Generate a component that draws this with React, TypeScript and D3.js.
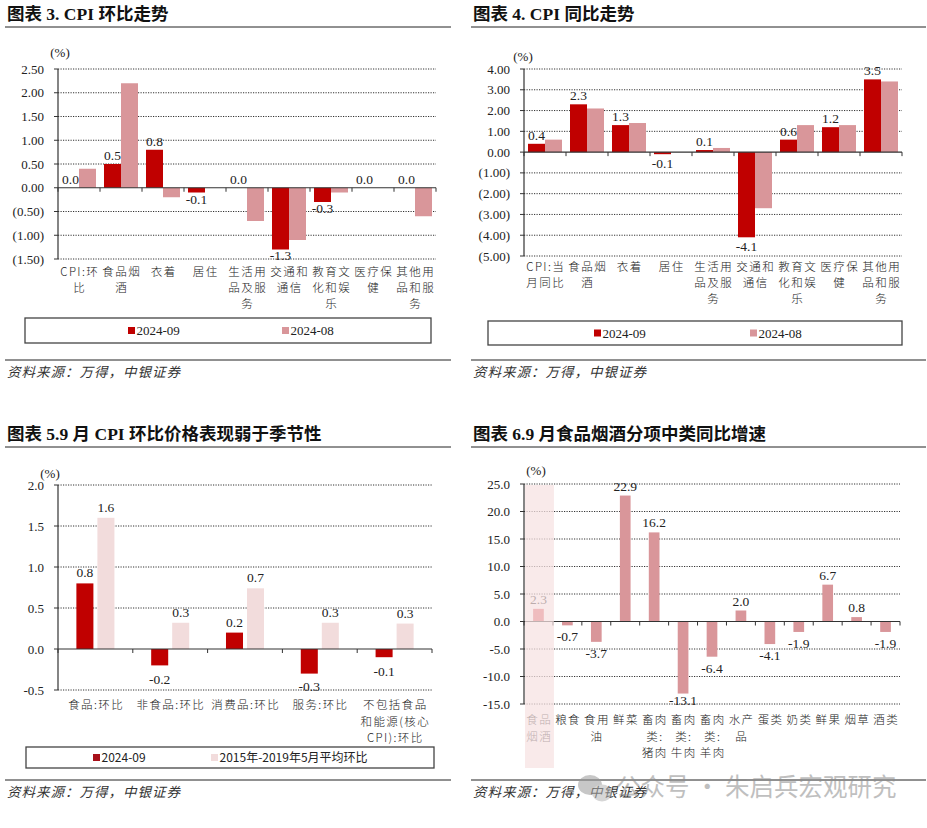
import React, { useEffect, useRef } from 'react';
import * as d3 from 'd3';

const SERIF = '"Liberation Serif", "Times New Roman", "Noto Sans CJK SC", serif';
const SANS = '"Noto Sans CJK SC", "Noto Sans", sans-serif';
const CJK = '"Noto Sans CJK SC", "Liberation Sans", sans-serif';

const RED = '#c00000';
const PINK = '#d9969a';
const LIGHT = '#f2dcdc';

// 图表3 CPI 环比
const momCats = ['CPI:环比', '食品烟酒', '衣着', '居住', '生活用品及服务', '交通和通信', '教育文化和娱乐', '医疗保健', '其他用品和服务'];
const momSep = [0.0, 0.5, 0.8, -0.1, 0.0, -1.3, -0.3, 0.0, 0.0];
const momAug = [0.4, 2.2, -0.2, 0.0, -0.7, -1.1, -0.1, 0.0, -0.6];
const momTicks = [-1.5, -1.0, -0.5, 0, 0.5, 1.0, 1.5, 2.0, 2.5];

// 图表4 CPI 同比
const yoyCats = ['CPI:当月同比', '食品烟酒', '衣着', '居住', '生活用品及服务', '交通和通信', '教育文化和娱乐', '医疗保健', '其他用品和服务'];
const yoySep = [0.4, 2.3, 1.3, -0.1, 0.1, -4.1, 0.6, 1.2, 3.5];
const yoyAug = [0.6, 2.1, 1.4, 0.0, 0.2, -2.7, 1.3, 1.3, 3.4];
const yoyTicks = [-5, -4, -3, -2, -1, 0, 1, 2, 3, 4];

// 图表5 季节性
const seasonCats = ['食品:环比', '非食品:环比', '消费品:环比', '服务:环比', '不包括食品和能源(核心CPI):环比'];
const seasonSep = [0.8, -0.2, 0.2, -0.3, -0.1];
const seasonAvg = [1.6, 0.32, 0.74, 0.32, 0.31];
const seasonTicks = [-0.5, 0, 0.5, 1.0, 1.5, 2.0];

// 图表6 食品烟酒分项
const foodCats = ['食品烟酒', '粮食', '食用油', '鲜菜', '畜肉类:猪肉', '畜肉类:牛肉', '畜肉类:羊肉', '水产品', '蛋类', '奶类', '鲜果', '烟草', '酒类'];
const foodYoy = [2.3, -0.7, -3.7, 22.9, 16.2, -13.1, -6.4, 2.0, -4.1, -1.9, 6.7, 0.8, -1.9];
const foodTicks = [-15, -10, -5, 0, 5, 10, 15, 20, 25];

const loc = d3.formatLocale({ decimal: '.', thousands: ',', grouping: [3], currency: ['', ''], minus: '-' });
const f1 = loc.format('.1f');
const f2 = loc.format('.2f');
const paren = (v: number) => (v < 0 ? `(${f2(-v)})` : f2(v));

// wrap by width: ascii counts half
function wrap(s: string, max: number) {
  const lines: string[] = [];
  let cur = '';
  let w = 0;
  for (const ch of s) {
    const cw = /[\x00-\x7f]/.test(ch) ? 0.5 : 1;
    if (w + cw > max + 1e-6 && cur) {
      lines.push(cur);
      cur = '';
      w = 0;
    }
    cur += ch;
    w += cw;
  }
  if (cur) lines.push(cur);
  return lines;
}

interface Series { name: string; values: number[]; color: string; labels: boolean }

interface PanelCfg {
  ox: number; oy: number;
  title: string; titleY: number; ruleY: number; ruleX2: number;
  cats: string[]; series: Series[];
  ticks: number[]; tickFmt: (v: number) => string;
  xRange: [number, number]; yRange: [number, number];
  padInner: number; padOuter: number;
  unit: [number, number];
  wrapMax: number; xLabelY: number; lineH: number;
  posOff: number; negOff: number;
  legend?: { box: [number, number, number, number]; xs: number[]; font: string; size: number };
  sourceY: number;
  highlight?: boolean;
}

function drawPanel(root: d3.Selection<SVGSVGElement, unknown, null, undefined>, p: PanelCfg) {
  const g = root.append('g').attr('transform', `translate(${p.ox},${p.oy})`);

  g.append('text')
    .attr('x', 7).attr('y', p.titleY)
    .style('font-family', SERIF).style('font-size', '17.5px').style('font-weight', 'bold')
    .attr('fill', '#111').text(p.title);
  g.append('line').attr('x1', 5).attr('x2', p.ruleX2).attr('y1', p.ruleY).attr('y2', p.ruleY)
    .attr('stroke', '#222').attr('stroke-width', 1);

  const y = d3.scaleLinear().domain(d3.extent(p.ticks) as [number, number]).range(p.yRange);
  const x = d3.scaleBand<string>().domain(p.cats).range(p.xRange);
  const xs = d3.scaleBand<string>().domain(p.series.map(s => s.name))
    .range([0, x.bandwidth()]).paddingInner(p.padInner).paddingOuter(p.padOuter);
  const [x0, x1] = p.xRange;
  const yBottom = p.yRange[0];

  // grid
  g.selectAll('.grid').data(p.ticks.filter(t => t !== 0)).enter().append('line')
    .attr('x1', x0).attr('x2', x1).attr('y1', d => y(d)).attr('y2', d => y(d))
    .attr('stroke', '#333').attr('stroke-width', 1).attr('stroke-dasharray', '1.2,1.3');

  // y ticks + labels
  g.selectAll('.yt').data(p.ticks).enter().append('line')
    .attr('x1', x0 - 4).attr('x2', x0).attr('y1', d => y(d)).attr('y2', d => y(d))
    .attr('stroke', '#333');
  g.selectAll('.yl').data(p.ticks).enter().append('text')
    .attr('x', x0 - 14).attr('y', d => y(d) + 4.5).attr('text-anchor', 'end')
    .style('font-family', SERIF).style('font-size', '13px').attr('fill', '#222')
    .text(d => p.tickFmt(d));
  g.append('text').attr('x', p.unit[0]).attr('y', p.unit[1] + 4.5).attr('text-anchor', 'middle')
    .style('font-family', SERIF).style('font-size', '13px').attr('fill', '#222').text('(%)');

  // bars
  const bars = g.append('g');
  const labels = g.append('g');
  p.series.forEach(s => {
    s.values.forEach((v, i) => {
      const c = p.cats[i];
      const bx = (x(c) as number) + (xs(s.name) as number);
      const bw = xs.bandwidth();
      const hl = p.highlight && i === 0;
      bars.append('rect')
        .attr('class', hl ? 'hlbar' : '')
        .attr('x', bx).attr('width', bw)
        .attr('y', Math.min(y(v), y(0))).attr('height', Math.abs(y(v) - y(0)))
        .attr('fill', hl ? '#dc5a62' : s.color);
      if (s.labels) {
        labels.append('text')
          .attr('x', bx + bw / 2)
          .attr('y', v >= 0 ? y(v) - p.posOff : Math.min(y(v) + p.negOff, yBottom + 1))
          .attr('text-anchor', 'middle')
          .style('font-family', SERIF).style('font-size', '13.5px').attr('fill', '#222')
          .text(f1(v));
      }
    });
  });

  // axes
  g.append('line').attr('x1', x0).attr('x2', x0).attr('y1', y.range()[1]).attr('y2', y.range()[0])
    .attr('stroke', '#333').attr('stroke-width', 1.2);
  g.append('line').attr('x1', x0).attr('x2', x1).attr('y1', y(0)).attr('y2', y(0))
    .attr('stroke', '#333').attr('stroke-width', 1.2);
  const bounds = d3.range(p.cats.length + 1).map(i => x0 + i * x.step());
  g.selectAll('.xt').data(bounds).enter().append('line')
    .attr('x1', d => d).attr('x2', d => d).attr('y1', y(0)).attr('y2', y(0) + 4)
    .attr('stroke', '#333');

  // category labels
  p.cats.forEach(c => {
    const cx = (x(c) as number) + x.bandwidth() / 2;
    wrap(c, p.wrapMax).forEach((ln, k) => {
      g.append('text').attr('x', cx + 0.7).attr('y', p.xLabelY + k * p.lineH)
        .attr('text-anchor', 'middle')
        .style('font-family', CJK).style('font-size', '11.5px').style('font-weight', '300')
        .style('letter-spacing', '1.4px').attr('fill', '#222').text(ln);
    });
  });

  if (p.highlight) {
    g.append('rect').attr('x', x0 + 1).attr('y', y.range()[1] + 1)
      .attr('width', x.step()).attr('height', 352 - y.range()[1])
      .attr('fill', '#f6e2e2').attr('opacity', 0.72);
    g.select('.hlbar').raise();
  }

  // legend
  if (p.legend) {
    const [lx, ly, lw, lh] = p.legend.box;
    g.append('rect').attr('x', lx).attr('y', ly).attr('width', lw).attr('height', lh)
      .attr('fill', '#fff').attr('stroke', '#444').attr('stroke-width', 1.3);
    p.series.forEach((s, i) => {
      const sx = p.legend!.xs[i];
      g.append('rect').attr('x', sx).attr('y', ly + lh / 2 - 3.5).attr('width', 7).attr('height', 7)
        .attr('fill', i === 0 && p.legend!.font === SANS ? '#a8101a' : s.color);
      g.append('text').attr('x', sx + 8.5).attr('y', ly + lh / 2 + 4.5)
        .style('font-family', p.legend!.font).style('font-size', `${p.legend!.size}px`)
        .attr('fill', '#222').text(s.name);
    });
  }

  // source
  g.append('line').attr('x1', 5).attr('x2', p.ruleX2).attr('y1', p.sourceY).attr('y2', p.sourceY)
    .attr('stroke', '#222').attr('stroke-width', 1);
  g.append('text').attr('x', 7).attr('y', p.sourceY + 16.5)
    .style('font-family', CJK).style('font-size', '13.5px').style('font-style', 'italic')
    .style('letter-spacing', '1px')
    .attr('fill', '#333').text('资料来源：万得，中银证券');
  return g;
}

export default function App() {
  const ref = useRef<SVGSVGElement>(null);

  useEffect(() => {
    if (!ref.current) return;
    const svg = d3.select(ref.current);
    svg.selectAll('*').remove();

    drawPanel(svg, {
      ox: 0, oy: 0, title: '图表 3. CPI 环比走势', titleY: 20, ruleY: 27, ruleX2: 451,
      cats: momCats,
      series: [
        { name: '2024-09', values: momSep, color: RED, labels: true },
        { name: '2024-08', values: momAug, color: PINK, labels: false },
      ],
      ticks: momTicks, tickFmt: paren, xRange: [58, 436], yRange: [259, 69],
      padInner: 0, padOuter: 0.235, unit: [60, 52], wrapMax: 3, xLabelY: 276, lineH: 16,
      posOff: 4, negOff: 11,
      legend: { box: [25, 318, 406, 25], xs: [128, 282], font: SERIF, size: 13 },
      sourceY: 360,
    });

    drawPanel(svg, {
      ox: 466, oy: 0, title: '图表 4. CPI 同比走势', titleY: 20, ruleY: 27, ruleX2: 460,
      cats: yoyCats,
      series: [
        { name: '2024-09', values: yoySep, color: RED, labels: true },
        { name: '2024-08', values: yoyAug, color: PINK, labels: false },
      ],
      ticks: yoyTicks, tickFmt: paren, xRange: [58, 436], yRange: [256, 69],
      padInner: 0, padOuter: 0.235, unit: [57, 56], wrapMax: 3, xLabelY: 271, lineH: 16,
      posOff: 4, negOff: 14,
      legend: { box: [22, 321, 414, 24], xs: [128, 284], font: SERIF, size: 13 },
      sourceY: 360,
    });

    drawPanel(svg, {
      ox: 0, oy: 415, title: '图表 5.9 月 CPI 环比价格表现弱于季节性', titleY: 25, ruleY: 32, ruleX2: 451,
      cats: seasonCats,
      series: [
        { name: '2024-09', values: seasonSep, color: RED, labels: true },
        { name: '2015年-2019年5月平均环比', values: seasonAvg, color: LIGHT, labels: true },
      ],
      ticks: seasonTicks, tickFmt: f1, xRange: [58, 432], yRange: [275, 70],
      padInner: 0.19, padOuter: 0.875, unit: [50, 58], wrapMax: 5.5, xLabelY: 294, lineH: 16.5,
      posOff: 6, negOff: 19,
      legend: { box: [26, 332, 408, 21], xs: [93, 211], font: SANS, size: 12 },
      sourceY: 365,
    });

    const g4 = drawPanel(svg, {
      ox: 466, oy: 415, title: '图表 6.9 月食品烟酒分项中类同比增速', titleY: 25, ruleY: 32, ruleX2: 460,
      cats: foodCats,
      series: [{ name: '同比', values: foodYoy, color: PINK, labels: true }],
      ticks: foodTicks, tickFmt: f1, xRange: [58, 434], yRange: [289, 69],
      padInner: 0.46, padOuter: 0.46, unit: [70, 55], wrapMax: 2, xLabelY: 309, lineH: 16.7,
      posOff: 5, negOff: 16,
      sourceY: 365, highlight: true,
    });

    // watermark
    const wm = g4.append('g').attr('opacity', 0.55);
    wm.append('ellipse').attr('cx', 124).attr('cy', 370).attr('rx', 12).attr('ry', 10).attr('fill', '#9a9a9a');
    wm.append('ellipse').attr('cx', 136).attr('cy', 378).attr('rx', 10).attr('ry', 8.5).attr('fill', '#b5b5b5');
    wm.append('text').attr('x', 150).attr('y', 381)
      .style('font-family', SANS).style('font-size', '24.5px').attr('fill', '#8c8c8c')
      .text('公众号 · 朱启兵宏观研究');
  }, []);

  return (
    <svg ref={ref} width={927} height={828}
      style={{ position: 'absolute', left: 0, top: 0, background: '#fff' }} />
  );
}
